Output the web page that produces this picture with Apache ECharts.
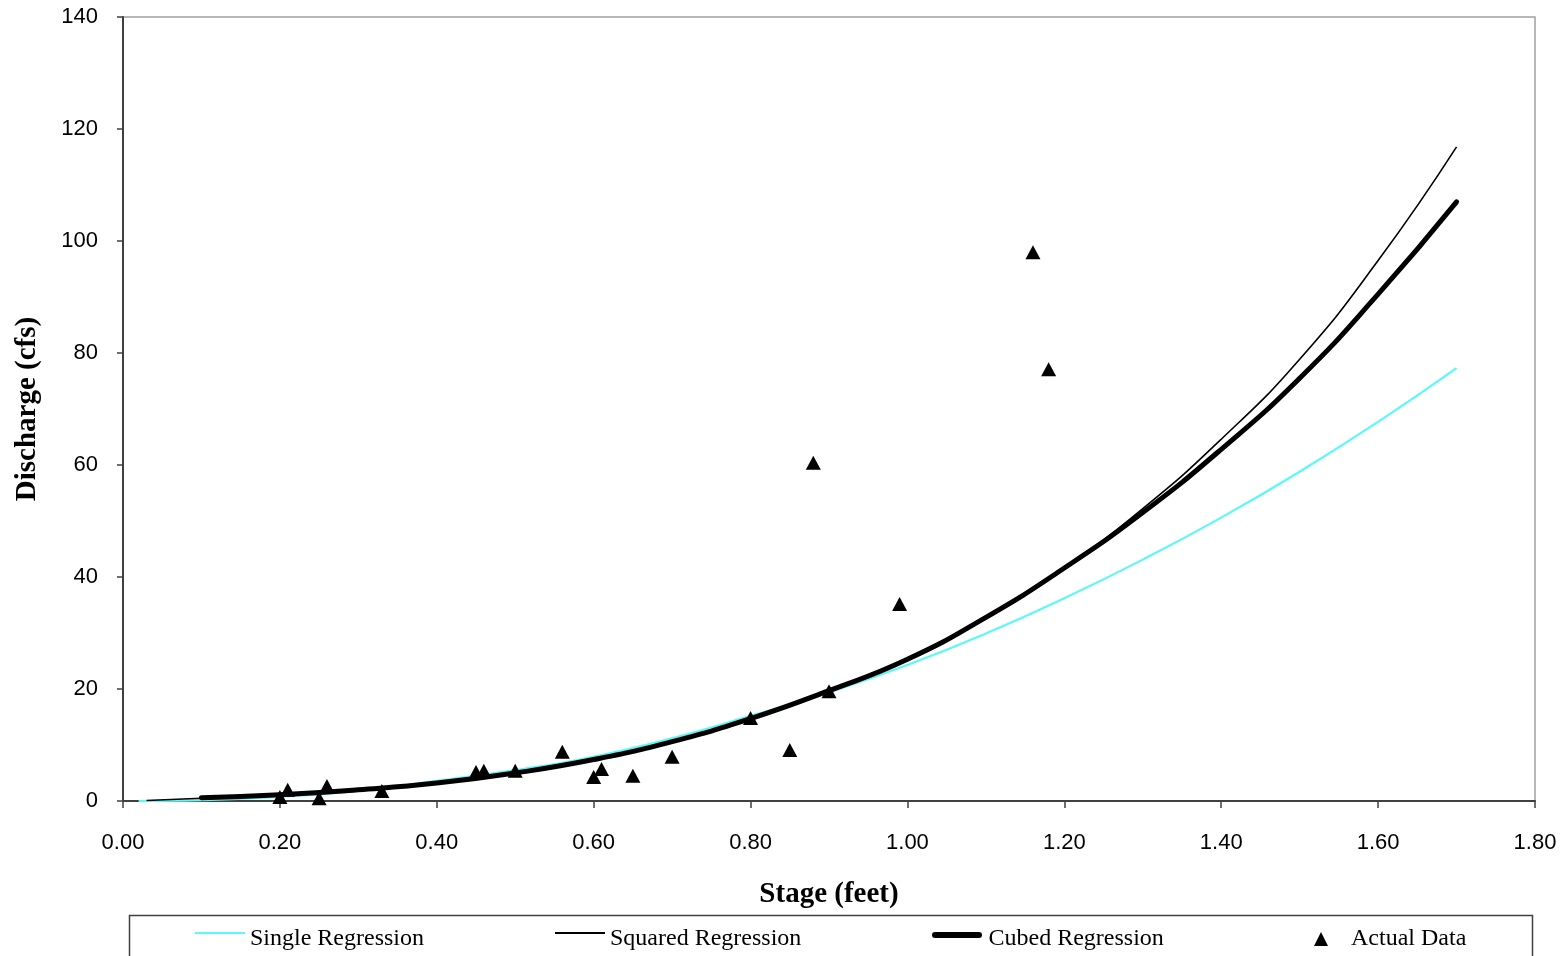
<!DOCTYPE html>
<html>
<head>
<meta charset="utf-8">
<script src="https://cdn.jsdelivr.net/npm/echarts@6/dist/echarts.min.js"></script>
<style>
html,body{margin:0;padding:0;background:#fff;}
#chart{width:1562px;height:956px;}
</style>
</head>
<body>
<div id="chart"></div>
<script>
// Stage (feet) / Discharge (cfs) values
const singleStage = [0.02, 0.1, 0.2, 0.3, 0.4, 0.5, 0.6, 0.7, 0.8, 0.9, 1.0, 1.1, 1.2, 1.3, 1.4, 1.5, 1.6, 1.7];
const singleQ     = [0.0, 0.16, 0.75, 1.8, 3.6, 5.5, 7.9, 11.2, 15.2, 19.4, 24.3, 29.9, 36.2, 43.1, 50.6, 58.8, 67.7, 77.3];

const squaredStage = [0.03, 0.1, 0.2, 0.3, 0.4, 0.5, 0.6, 0.7, 0.8, 0.9, 1.0, 1.1, 1.2, 1.3, 1.4, 1.5, 1.6, 1.7];
const squaredQ     = [0.1, 0.5, 1.1, 2.0, 3.1, 4.9, 7.3, 10.5, 14.6, 19.6, 25.2, 32.6, 41.6, 52.2, 64.6, 78.9, 96.5, 116.8];

const cubedStage = [0.1, 0.2, 0.3, 0.4, 0.5, 0.6, 0.7, 0.8, 0.9, 1.0, 1.1, 1.2, 1.3, 1.4, 1.5, 1.6, 1.7];
const cubedQ     = [0.6, 1.1, 2.0, 3.2, 5.0, 7.4, 10.6, 14.7, 19.7, 25.3, 32.8, 41.6, 51.5, 62.8, 75.5, 90.5, 107.0];

const actualStage = [0.20, 0.21, 0.25, 0.26, 0.33, 0.45, 0.46, 0.50, 0.56, 0.60, 0.61, 0.65, 0.70, 0.80, 0.85, 0.88, 0.90, 0.99, 1.16, 1.18];
const actualQ     = [0.7, 2.0, 0.5, 2.7, 1.8, 5.2, 5.4, 5.4, 8.8, 4.3, 5.7, 4.5, 7.9, 14.8, 9.1, 60.4, 19.6, 35.2, 98.0, 77.1];

const seriesNames = ['Single Regression', 'Squared Regression', 'Cubed Regression', 'Actual Data'];
const xTickMin = 0, xTickMax = 1.8, xTickStep = 0.2;
const yTickMin = 0, yTickMax = 140, yTickStep = 20;

const pairs = (xs, ys) => xs.map((x, i) => [x, ys[i]]);

const chart = echarts.init(document.getElementById('chart'), null, {renderer: 'canvas'});

// legend icons: a line drawn near the top of a 50x14 box (so the text sits slightly lower)
const thinIcon  = 'path://M0,0 L50,0 L50,2 L0,2 Z M0,14 L0,14';
const thickIcon = 'path://M3,0 L47,0 A3,3 0 0 1 47,6 L3,6 A3,3 0 0 1 3,0 Z M0,14 L0,14';
const triIcon   = 'path://M25,0 L32,14 L18,14 Z M0,0 L0,0 M50,14 L50,14';

const legendText = {fontFamily: 'Liberation Serif', fontSize: 24, color: '#000'};
const legendBase = {orient: 'horizontal', padding: 0, itemWidth: 50, itemHeight: 14, itemGap: 0,
  textStyle: legendText, selectedMode: false, itemStyle: {borderWidth: 0}, top: 927};

const option = {
  backgroundColor: '#fff',
  animation: false,
  grid: {left: 123, right: 27, top: 17, bottom: 155, show: true, borderColor: '#a0a0a0', borderWidth: 1.5, backgroundColor: 'transparent'},
  xAxis: {
    type: 'value', min: xTickMin, max: xTickMax, interval: xTickStep,
    name: 'Stage (feet)', nameLocation: 'middle', nameGap: 79,
    nameTextStyle: {fontFamily: 'Liberation Serif', fontWeight: 'bold', fontSize: 29, color: '#000'},
    axisLine: {show: true, onZero: false, lineStyle: {color: '#404040', width: 2}},
    axisTick: {show: true, inside: false, length: 7, lineStyle: {color: '#404040', width: 1.5}},
    axisLabel: {margin: 31, fontFamily: 'Liberation Sans', fontSize: 22, color: '#000', formatter: v => v.toFixed(2)},
    splitLine: {show: false}
  },
  yAxis: {
    type: 'value', min: yTickMin, max: yTickMax, interval: yTickStep,
    name: 'Discharge (cfs)', nameLocation: 'middle', nameGap: 81,
    nameTextStyle: {fontFamily: 'Liberation Serif', fontWeight: 'bold', fontSize: 29, color: '#000'},
    axisLine: {show: true, onZero: false, lineStyle: {color: '#404040', width: 2}},
    axisTick: {show: true, inside: false, length: 6, lineStyle: {color: '#404040', width: 1.5}},
    axisLabel: {margin: 25, fontFamily: 'Liberation Sans', fontSize: 22, color: '#000'},
    splitLine: {show: false}
  },
  legend: [
    Object.assign({}, legendBase, {data: [{name: seriesNames[0], icon: thinIcon}], left: 195}),
    Object.assign({}, legendBase, {data: [{name: seriesNames[1], icon: thinIcon}], left: 555}),
    Object.assign({}, legendBase, {data: [{name: seriesNames[2], icon: thickIcon}], left: 932, itemWidth: 53}),
    Object.assign({}, legendBase, {data: [{name: seriesNames[3], icon: triIcon}], left: 1296})
  ],
  graphic: [{
    type: 'rect', left: 127, top: 913, silent: true,
    shape: {x: 0, y: 0, width: 1403, height: 80},
    style: {fill: 'none', stroke: '#404040', lineWidth: 1.5}
  }],
  series: [
    {name: seriesNames[0], type: 'line', data: pairs(singleStage, singleQ), smooth: true, symbol: 'none',
     lineStyle: {color: '#5cf8f8', width: 2.2}, itemStyle: {color: '#5cf8f8'}, z: 2},
    {name: seriesNames[1], type: 'line', data: pairs(squaredStage, squaredQ), smooth: true, symbol: 'none',
     lineStyle: {color: '#000', width: 1.6}, itemStyle: {color: '#000'}, z: 4},
    {name: seriesNames[2], type: 'line', data: pairs(cubedStage, cubedQ), smooth: true, symbol: 'none',
     lineStyle: {color: '#000', width: 5, cap: 'round'}, itemStyle: {color: '#000'}, z: 3},
    {name: seriesNames[3], type: 'scatter', data: pairs(actualStage, actualQ), symbol: 'triangle', symbolSize: [15, 14],
     itemStyle: {color: '#000', opacity: 1}, z: 5}
  ]
};
chart.setOption(option);
</script>
</body>
</html>
